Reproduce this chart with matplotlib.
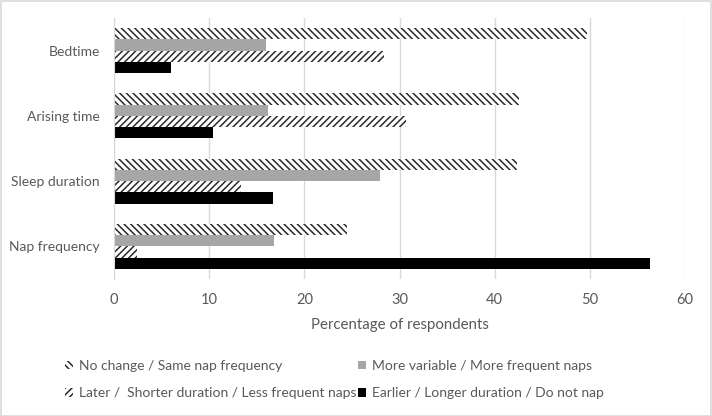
import numpy as np
import matplotlib
matplotlib.use('Agg')
import matplotlib.pyplot as plt
from matplotlib.patches import Rectangle

# --- Data (percentage of respondents) ---
categories = ['Bedtime', 'Arising time', 'Sleep duration', 'Nap frequency']
series_labels = ['No change / Same nap frequency',
                 'More variable / More frequent naps',
                 'Later /  Shorter duration / Less frequent naps',
                 'Earlier / Longer duration / Do not nap']
no_change = [49.7, 42.6, 42.3, 24.5]
more_variable = [16.0, 16.2, 27.9, 16.8]
later = [28.4, 30.7, 13.3, 2.4]
earlier = [6.0, 10.4, 16.7, 56.3]
x_ticks = [0, 10, 20, 30, 40, 50, 60]

TEXT = '#595959'
GRID = '#d9d9d9'

plt.rcParams['font.family'] = ['Lato', 'DejaVu Sans']
plt.rcParams['hatch.linewidth'] = 1.1

fig = plt.figure(figsize=(7.12, 4.16), dpi=100)
ax = fig.add_axes([114 / 712, 1 - 279 / 416, 571 / 712, 261 / 416])

y = np.arange(len(categories))
h = 0.172
styles = [
    dict(facecolor='white', edgecolor='#2a2a2a', hatch='\\\\\\\\\\', linewidth=0),
    dict(facecolor='#a6a6a6', edgecolor='#a6a6a6', linewidth=0),
    dict(facecolor='white', edgecolor='#2a2a2a', hatch='/////', linewidth=0),
    dict(facecolor='black', edgecolor='black', linewidth=0),
]
values = [no_change, more_variable, later, earlier]
handles = []
for i, (vals, st, lab) in enumerate(zip(values, styles, series_labels)):
    b = ax.barh(y + (i - 1.5) * h, vals, height=h, label=lab, **st)
    handles.append(b)

ax.set_ylim(len(categories) - 0.5, -0.5)
ax.set_xlim(0, 60)
ax.set_xticks(x_ticks)
ax.set_yticks(y)
ax.set_yticklabels(categories)
ax.tick_params(axis='x', length=0, labelsize=10.5, colors=TEXT, pad=10)
ax.tick_params(axis='y', length=0, labelsize=10, colors=TEXT, pad=10)
ax.xaxis.grid(True, color=GRID, linewidth=1)
ax.set_axisbelow(True)
for s in ['top', 'right', 'bottom']:
    ax.spines[s].set_visible(False)
ax.spines['left'].set_color(GRID)
ax.set_xlabel('Percentage of respondents', fontsize=10.8, color=TEXT, labelpad=8)

# legend, filled column by column: order so rows read as in the original
order = [0, 2, 1, 3]
leg = fig.legend([handles[k] for k in order], [series_labels[k] for k in order],
                 ncol=2, loc='center', bbox_to_anchor=(0.470, 0.087),
                 frameon=False, fontsize=10, handlelength=0.55, handleheight=0.55,
                 handletextpad=0.45, columnspacing=0.1, labelspacing=1.1)
for t in leg.get_texts():
    t.set_color(TEXT)

# light frame around the chart
fig.patches.append(Rectangle((0.001, 0.001), 0.997, 0.996, transform=fig.transFigure,
                             fill=False, edgecolor=GRID, linewidth=1.2))

fig.savefig('out.png', dpi=100)
